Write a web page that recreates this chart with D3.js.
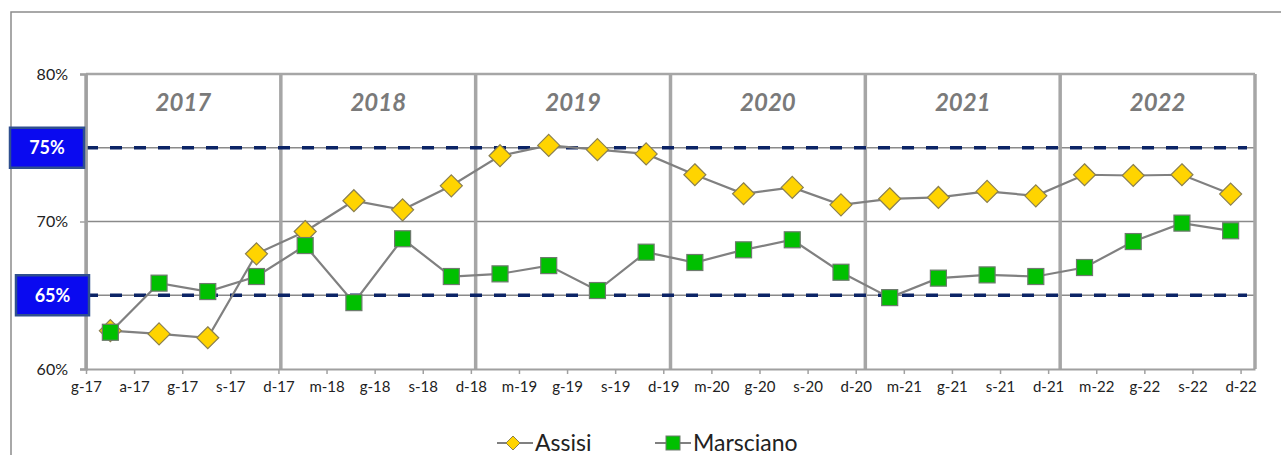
<!DOCTYPE html>
<html><head><meta charset="utf-8">
<script src="https://cdn.jsdelivr.net/npm/d3@7"></script>
<style>html,body{margin:0;padding:0;background:#fff;}svg{display:block;}</style>
</head><body>
<script>
const tickLabels = ["g-17","a-17","g-17","s-17","d-17","m-18","g-18","s-18","d-18","m-19","g-19","s-19","d-19","m-20","g-20","s-20","d-20","m-21","g-21","s-21","d-21","m-22","g-22","s-22","d-22"];
const years = ["2017","2018","2019","2020","2021","2022"];
const assisi = [62.60,62.38,62.12,67.81,69.32,71.41,70.79,72.42,74.46,75.16,74.87,74.58,73.17,71.88,72.31,71.13,71.54,71.63,72.04,71.74,73.17,73.12,73.17,71.86];
const marsciano = [62.49,65.82,65.25,66.27,68.37,64.50,68.83,66.27,66.45,67.01,65.32,67.92,67.22,68.08,68.76,66.56,64.84,66.16,66.38,66.27,66.88,68.64,69.89,69.37];
const yTicks = [60,70,80];
const gridValues = [65,70,75];
const targets = [75,65];
const seriesNames = ["Assisi","Marsciano"];

(function(){
const W=1281,H=455;
const svg=d3.select("body").append("svg").attr("width",W).attr("height",H);
const font="Lato, 'Noto Sans', sans-serif";
const pL=86,pR=1255,pT=74,pB=369;
const x=d3.scaleLinear().domain([0,24]).range([pL,pR]);
// label axis (date-like axis that runs a bit past the last label)
const xl=d3.scaleLinear().domain([0,24.3]).range([pL,pR]);
const y=d3.scaleLinear().domain([60,80]).range([pB,pT]);

// outer chart border
svg.append("path").attr("d",`M11,${H} V12 H${W}`).attr("fill","none").attr("stroke","#8c8c8c").attr("stroke-width",1.5);

// horizontal gridlines
svg.selectAll(".grid").data(gridValues).enter().append("line")
  .attr("x1",pL).attr("x2",pR).attr("y1",d=>y(d)).attr("y2",d=>y(d))
  .attr("stroke","#8a8a8a").attr("stroke-width",1.6);
svg.append("line").attr("x1",pL).attr("x2",pR).attr("y1",y(80)).attr("y2",y(80))
  .attr("stroke","#a6a6a6").attr("stroke-width",2.5);

// year separators
svg.selectAll(".sep").data(d3.range(0,25,4)).enter().append("line")
  .attr("x1",d=>x(d)).attr("x2",d=>x(d)).attr("y1",y(80)).attr("y2",pB)
  .attr("stroke","#a6a6a6").attr("stroke-width",3.5);

// target dashed lines
svg.selectAll(".tgt").data(targets).enter().append("line")
  .attr("x1",pL).attr("x2",pR-8).attr("y1",d=>y(d)).attr("y2",d=>y(d))
  .attr("stroke","#0c2466").attr("stroke-width",3.5).attr("stroke-dasharray","12,12");

// x axis
const xAxis=d3.axisBottom(xl).tickValues(d3.range(25)).tickFormat(i=>tickLabels[i]).tickSize(5).tickPadding(7).tickSizeOuter(0);
const gx=svg.append("g").attr("transform",`translate(0,${pB})`).call(xAxis);
gx.select(".domain").attr("stroke","#a0a0a0").attr("stroke-width",2);
gx.selectAll(".tick line").attr("stroke","#a0a0a0").attr("stroke-width",1.5);
gx.selectAll("text").attr("font-family",font).attr("font-size",15).attr("fill","#222");

// y axis
const yAxis=d3.axisLeft(y).tickValues(yTicks).tickFormat(d=>d+"%").tickSize(6).tickPadding(12);
const gy=svg.append("g").attr("transform",`translate(${pL},0)`).call(yAxis);
gy.select(".domain").attr("stroke","#a0a0a0").attr("stroke-width",2.5);
gy.selectAll(".tick line").attr("stroke","#a0a0a0").attr("stroke-width",1.5);
gy.selectAll("text").attr("font-family",font).attr("font-size",16).attr("fill","#222");

// year labels
svg.selectAll(".yr").data(years).enter().append("text")
  .attr("x",(d,i)=>x(i*4+2)).attr("y",111).attr("text-anchor","middle")
  .attr("font-family",font).attr("font-size",24).attr("font-weight","bold").attr("font-style","italic")
  .attr("fill","#7a7a7a").text(d=>d);

// series
const line=d3.line().x((d,i)=>x(i+0.5)).y(d=>y(d));
const diamond=r=>`M0,${-r}L${r},0L0,${r}L${-r},0Z`;
svg.append("path").datum(assisi).attr("d",line).attr("fill","none").attr("stroke","#808080").attr("stroke-width",2.2);
svg.selectAll(".as").data(assisi).enter().append("path")
  .attr("transform",(d,i)=>`translate(${x(i+0.5)},${y(d)})`).attr("d",diamond(11))
  .attr("fill","#ffd400").attr("stroke","#8a7f50").attr("stroke-width",1.2);
svg.append("path").datum(marsciano).attr("d",line).attr("fill","none").attr("stroke","#808080").attr("stroke-width",2.2);
svg.selectAll(".ma").data(marsciano).enter().append("rect")
  .attr("x",(d,i)=>x(i+0.5)-8).attr("y",d=>y(d)-8).attr("width",16).attr("height",16)
  .attr("fill","#00c000").attr("stroke","#6e7a6e").attr("stroke-width",1.2);

// target boxes
const boxes=[{v:75,x:10,w:74},{v:65,x:16,w:73}];
boxes.forEach(b=>{
  const g=svg.append("g");
  g.append("rect").attr("x",b.x).attr("y",y(b.v)-20).attr("width",b.w).attr("height",40)
    .attr("fill","#0a0af0").attr("stroke","#2f4f8f").attr("stroke-width",2.5);
  g.append("text").attr("x",b.x+b.w/2).attr("y",y(b.v)+6.5).attr("text-anchor","middle")
    .attr("font-family",font).attr("font-size",18).attr("font-weight","bold").attr("fill","#fff").text(b.v+"%");
});

// legend
const lg=svg.append("g");
const items=[{name:seriesNames[0],x0:497,type:"d"},{name:seriesNames[1],x0:655,type:"s"}];
items.forEach(it=>{
  const cy=443;
  lg.append("line").attr("x1",it.x0).attr("x2",it.x0+36).attr("y1",cy).attr("y2",cy).attr("stroke","#808080").attr("stroke-width",2);
  if(it.type==="d") lg.append("path").attr("transform",`translate(${it.x0+16},${cy})`).attr("d",diamond(7)).attr("fill","#ffd400").attr("stroke","#8a7f50");
  else lg.append("rect").attr("x",it.x0+11).attr("y",cy-7).attr("width",14).attr("height",14).attr("fill","#00c000").attr("stroke","#6e7a6e");
  lg.append("text").attr("x",it.x0+38).attr("y",cy+8).attr("font-family",font).attr("font-size",23).attr("fill","#222").text(it.name);
});
})();
</script>
</body></html>
